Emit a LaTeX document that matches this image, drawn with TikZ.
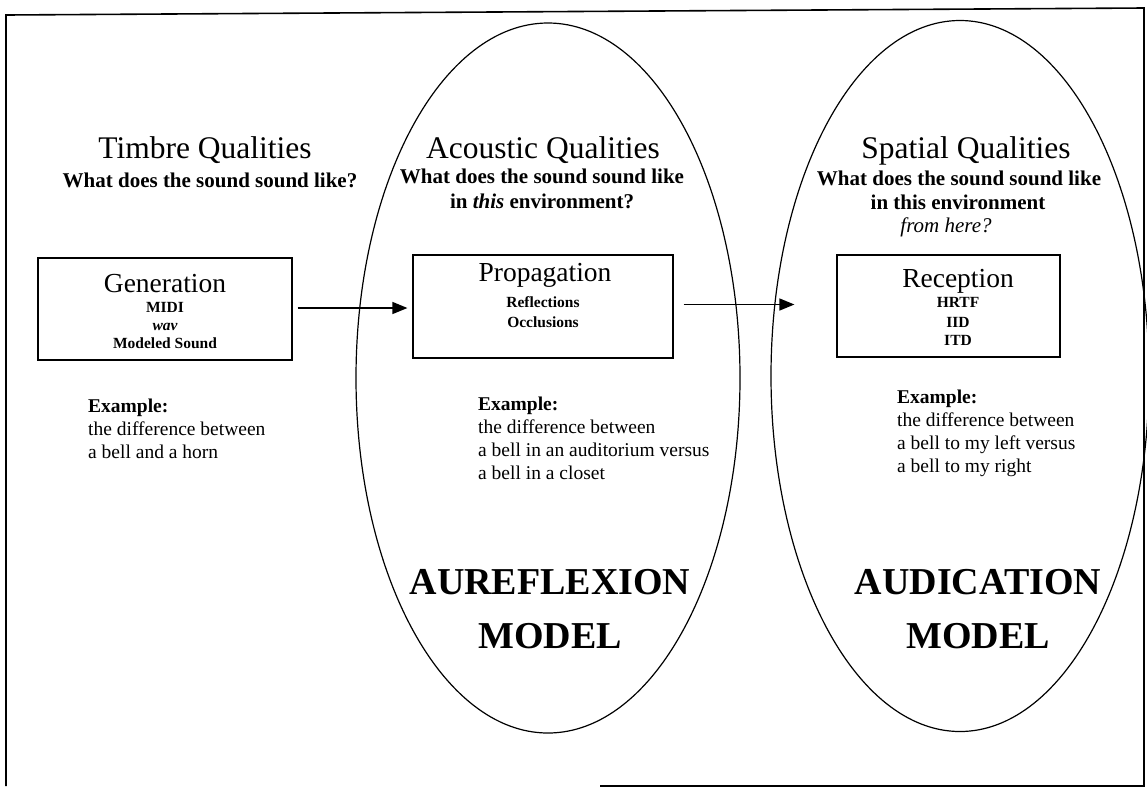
\documentclass[tikz,border=0pt]{standalone}
\usepackage{fontspec}
\setmainfont{Liberation Serif}
\usetikzlibrary{arrows.meta,shapes.geometric}
\begin{document}
\begin{tikzpicture}[x=1pt,y=-1pt,
  frameline/.style={line width=1.6pt},
  oval/.style={draw, ellipse, line width=1.2pt, inner sep=0pt},
  box/.style={draw, line width=1.2pt, inner sep=0pt},
  conn/.style={line width=1.4pt, -{Triangle[length=15pt,width=12pt]}},
  title/.style={anchor=base, font=\fontsize{31.5}{31.5}\selectfont, inner sep=0pt},
  sub/.style={anchor=base, font=\fontsize{21}{21}\selectfont\bfseries, inner sep=0pt},
  btitle/.style={anchor=base, font=\fontsize{27.5}{27.5}\selectfont, inner sep=0pt},
  item/.style={anchor=base, font=\fontsize{15.5}{15.5}\selectfont\bfseries, inner sep=0pt},
  ex/.style={anchor=base west, font=\fontsize{19.5}{19.5}\selectfont, inner sep=0pt},
  big/.style={anchor=base, font=\fontsize{38}{38}\selectfont\bfseries, inner sep=0pt},
]
\useasboundingbox (0,0) rectangle (1147,788);
% frame
\coordinate (f1) at (600,786);
\coordinate (f2) at (1144,786);
\coordinate (f3) at (1144,8);
\coordinate (f4) at (6,15);
\coordinate (f5) at (6,786);
\draw[frameline] (f1) -- (f2) -- (f3) -- (f4) -- (f5);
% ellipses
\node[oval, minimum width=384pt, minimum height=710pt] (e1) at (548,378) {};
\node[oval, minimum width=378pt, minimum height=711pt] (e2) at (960,376) {};
% column 1
\node[title] (t1) at (205,158) {Timbre Qualities};
\node[sub] (s1) at (210,187) {What does the sound sound like?};
\node[box, minimum width=254pt, minimum height=102pt] (gen) at (165,309) {};
\node[btitle] (gent) at (165,292) {Generation};
\node[item] (g1) at (165,312) {MIDI};
\node[item] (g2) at (165,330) {\itshape wav};
\node[item] (g3) at (165,348) {Modeled Sound};
\node[ex] (x1a) at (88,412) {\bfseries Example:};
\node[ex] (x1b) at (88,435) {the difference between};
\node[ex] (x1c) at (88,458) {a bell and a horn};
% column 2
\node[title] (t2) at (543,158) {Acoustic Qualities};
\node[sub] (s2a) at (542,183) {What does the sound sound like};
\node[sub] (s2b) at (542,208) {in \textit{this} environment?};
\node[box, minimum width=260pt, minimum height=103pt] (prop) at (543,306.5) {};
\node[btitle] (propt) at (545,281) {Propagation};
\node[item] (p1) at (543,307) {Reflections};
\node[item] (p2) at (543,327) {Occlusions};
\node[ex] (x2a) at (478,410) {\bfseries Example:};
\node[ex] (x2b) at (478,433) {the difference between};
\node[ex] (x2c) at (478,456) {a bell in an auditorium versus};
\node[ex] (x2d) at (478,479) {a bell in a closet};
\node[big] (m1a) at (550,594) {AUREFLEXION};
\node[big] (m1b) at (550,648) {MODEL};
% column 3
\node[title] (t3) at (966,158) {Spatial Qualities};
\node[sub] (s3a) at (959,185) {What does the sound sound like};
\node[sub] (s3b) at (958,209) {in this environment};
\node[sub, font=\fontsize{21}{21}\selectfont\itshape] (s3c) at (946,232) {from here?};
\node[box, minimum width=223pt, minimum height=102pt] (rec) at (948.5,306) {};
\node[btitle] (rect) at (958,287) {Reception};
\node[item] (r1) at (958,307) {HRTF};
\node[item] (r2) at (958,327) {IID};
\node[item] (r3) at (958,345) {ITD};
\node[ex] (x3a) at (897,403) {\bfseries Example:};
\node[ex] (x3b) at (897,426) {the difference between};
\node[ex] (x3c) at (897,449) {a bell to my left versus};
\node[ex] (x3d) at (897,472) {a bell to my right};
\node[big] (m2a) at (978,594) {AUDICATION};
\node[big] (m2b) at (978,648) {MODEL};
% arrows
\draw[conn] ([xshift=5pt,yshift=1pt]gen.east) -- ([xshift=-5pt,yshift=1pt]gen.east -| prop.west);
\draw[conn] ([xshift=10pt,yshift=2pt]prop.east) -- ([xshift=-42pt,yshift=2pt]prop.east -| rec.west);
\end{tikzpicture}
\end{document}
